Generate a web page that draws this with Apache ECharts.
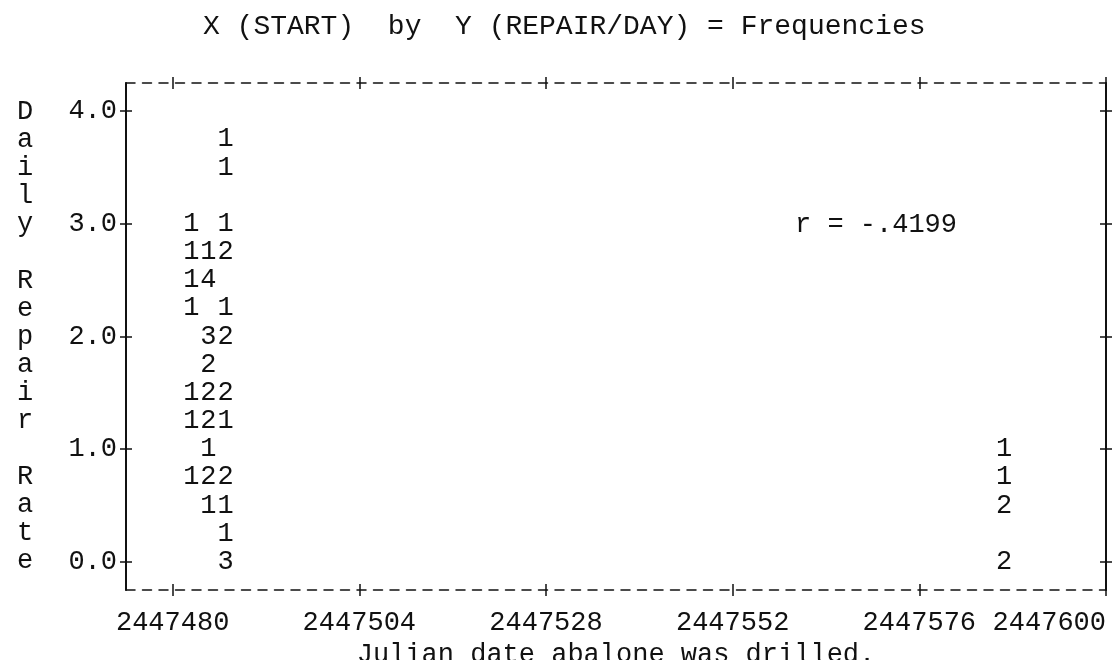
<!DOCTYPE html>
<html>
<head>
<meta charset="utf-8">
<title>X (START) by Y (REPAIR/DAY) = Frequencies</title>
<script src="https://cdn.jsdelivr.net/npm/echarts@6/dist/echarts.min.js"></script>
<style>
    html, body { margin: 0; padding: 0; background: #ffffff; }
    #chart { width: 1116px; height: 660px; }
</style>
</head>
<body>
<div id="chart"></div>
<script>
// one entry per printed digit: julian date of the cell, repair rate of the row, count printed
const startDates = [
    2447486.8, 2447486.8,
    2447482.4, 2447486.8,
    2447482.4, 2447484.6, 2447486.8,
    2447482.4, 2447484.6,
    2447482.4, 2447486.8,
    2447484.6, 2447486.8,
    2447484.6,
    2447482.4, 2447484.6, 2447486.8,
    2447482.4, 2447484.6, 2447486.8,
    2447484.6,
    2447482.4, 2447484.6, 2447486.8,
    2447484.6, 2447486.8,
    2447486.8,
    2447486.8,
    2447586.9, 2447586.9, 2447586.9, 2447586.9
];
const repairRates = [
    3.75, 3.5,
    3.0, 3.0,
    2.75, 2.75, 2.75,
    2.5, 2.5,
    2.25, 2.25,
    2.0, 2.0,
    1.75,
    1.5, 1.5, 1.5,
    1.25, 1.25, 1.25,
    1.0,
    0.75, 0.75, 0.75,
    0.5, 0.5,
    0.25,
    0.0,
    1.0, 0.75, 0.5, 0.0
];
const frequencies = [
    1, 1,
    1, 1,
    1, 1, 2,
    1, 4,
    1, 1,
    3, 2,
    2,
    1, 2, 2,
    1, 2, 1,
    1,
    1, 2, 2,
    1, 1,
    1,
    3,
    1, 1, 2, 2
];

const xTicks = [2447480, 2447504, 2447528, 2447552, 2447576, 2447600];
const yTicks = [0, 1, 2, 3, 4];

const chartTitle = 'X (START)  by  Y (REPAIR/DAY) = Frequencies';
const xTitle = 'Julian date abalone was drilled.';
const yTitle = 'Daily Repair Rate';
const correlation = 'r = -.4199';

const FONT = 'Liberation Mono';
const INK = '#111111';

const chart = echarts.init(document.getElementById('chart'));

// every frame side is two axes on top of each other: one tick pointing out, one in -> a "+"
function frameX(position, inside, extra) {
    return Object.assign({
        type: 'value',
        position: position,
        min: 2447474,
        max: 2447600,
        splitLine: { show: false },
        axisLine: { show: !inside, onZero: false, lineStyle: { color: INK, width: 1.5, type: [9, 7.5] } },
        axisTick: { show: true, inside: inside, length: 6, customValues: xTicks, lineStyle: { color: INK, width: 1.5 } },
        axisLabel: { show: false }
    }, extra || {});
}

function frameY(position, inside, extra) {
    return Object.assign({
        type: 'value',
        position: position,
        min: -0.25,
        max: 4.25,
        splitLine: { show: false },
        axisLine: { show: !inside, onZero: false, lineStyle: { color: INK, width: 2 } },
        axisTick: { show: true, inside: inside, length: 6, customValues: yTicks, lineStyle: { color: INK, width: 1.5 } },
        axisLabel: { show: false }
    }, extra || {});
}

const option = {
    backgroundColor: '#ffffff',
    animation: false,
    textStyle: { fontFamily: FONT, color: INK },
    title: {
        text: chartTitle,
        left: 203,
        top: 13,
        padding: 0,
        textStyle: { fontFamily: FONT, fontSize: 28, fontWeight: 'normal', color: INK }
    },
    graphic: [{
        type: 'text',
        left: 795,
        top: 211,
        style: { text: correlation, font: '27px "Liberation Mono"', fill: INK }
    }],
    grid: { left: 126, right: 10, top: 83, bottom: 70, containLabel: false, outerBoundsMode: 'none' },
    xAxis: [
        frameX('bottom', false, {
            name: xTitle,
            nameLocation: 'middle',
            nameGap: 48,
            nameTextStyle: { fontFamily: FONT, fontSize: 27, color: INK },
            axisLabel: {
                show: true,
                customValues: xTicks,
                margin: 19,
                alignMaxLabel: 'right',
                fontFamily: FONT,
                fontSize: 27,
                color: INK,
                formatter: function (v) { return String(v); }
            }
        }),
        frameX('bottom', true),
        frameX('top', false),
        frameX('top', true)
    ],
    yAxis: [
        frameY('left', false, {
            name: yTitle.split('').join('\n'),
            nameLocation: 'middle',
            nameRotate: 0,
            nameGap: 101,
            nameTextStyle: { fontFamily: FONT, fontSize: 27, color: INK, align: 'center', lineHeight: 28.06 },
            axisLabel: {
                show: true,
                customValues: yTicks,
                margin: 9,
                fontFamily: FONT,
                fontSize: 27,
                color: INK,
                formatter: function (v) { return v.toFixed(1); }
            }
        }),
        frameY('left', true),
        frameY('right', false),
        frameY('right', true)
    ],
    series: [{
        type: 'scatter',
        xAxisIndex: 0,
        yAxisIndex: 0,
        symbolSize: 1,
        itemStyle: { color: 'transparent', opacity: 1 },
        label: {
            show: true,
            position: 'inside',
            fontFamily: FONT,
            fontSize: 27,
            color: INK,
            formatter: function (p) { return String(p.value[2]); }
        },
        data: startDates.map(function (d, i) { return [d, repairRates[i], frequencies[i]]; })
    }]
};

chart.setOption(option);
</script>
</body>
</html>
